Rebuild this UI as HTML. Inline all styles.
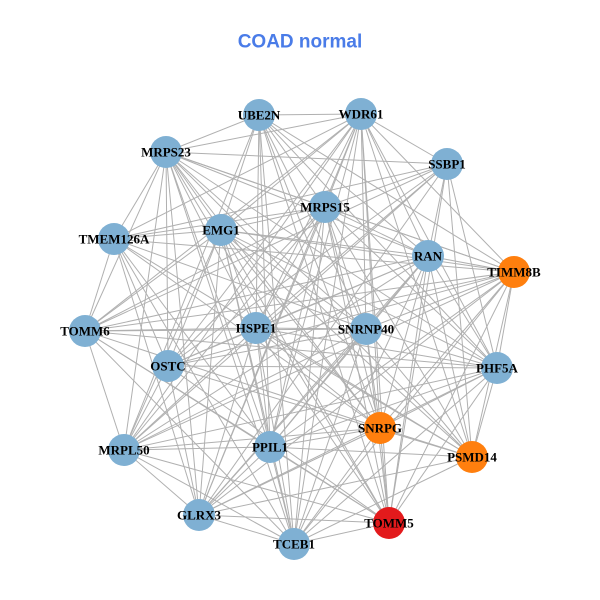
<!DOCTYPE html>
<html><head><meta charset="utf-8"><style>
html,body{margin:0;padding:0;background:#fff;width:600px;height:600px;overflow:hidden}
svg text{font-family:"Liberation Serif",serif;font-weight:bold;font-size:13px;text-anchor:middle;dominant-baseline:central;fill:#000}
</style></head><body>
<svg id="s" width="600" height="600" xmlns="http://www.w3.org/2000/svg">
<text x="300" y="42" style="font-family:'Liberation Sans',sans-serif;font-size:19px;fill:#4a7ce8">COAD normal</text>
<g id="e" stroke="#b0b0b0" stroke-width="1"></g>
<g id="n"></g>
<g>
<text x="259" y="115">UBE2N</text>
<text x="361" y="114">WDR61</text>
<text x="166" y="152">MRPS23</text>
<text x="447" y="164">SSBP1</text>
<text x="325" y="207">MRPS15</text>
<text x="221" y="230">EMG1</text>
<text x="114" y="239">TMEM126A</text>
<text x="428" y="256">RAN</text>
<text x="514" y="272">TIMM8B</text>
<text x="85" y="331">TOMM6</text>
<text x="256" y="328">HSPE1</text>
<text x="366" y="329">SNRNP40</text>
<text x="168" y="366">OSTC</text>
<text x="497" y="368">PHF5A</text>
<text x="380" y="428">SNRPG</text>
<text x="472" y="457">PSMD14</text>
<text x="124" y="450">MRPL50</text>
<text x="270" y="447">PPIL1</text>
<text x="199" y="515">GLRX3</text>
<text x="389" y="523">TOMM5</text>
<text x="294" y="544">TCEB1</text>
</g>
</svg>
<script>
var N=[[259,115,0],[361,114,0],[166,152,0],[447,164,0],[325,207,0],[221,230,0],[114,239,0],[428,256,0],[514,272,1],[85,331,0],[256,328,0],[366,329,0],[168,366,0],[497,368,0],[380,428,1],[472,457,1],[124,450,0],[270,447,0],[199,515,0],[389,523,2],[294,544,0]];
var ns="http://www.w3.org/2000/svg",e=document.getElementById('e'),g=document.getElementById('n');
var col=["#7fb0d3","#ff7f0e","#e31a1c"];
for(var i=0;i<N.length;i++)for(var j=i+1;j<N.length;j++){
 if((i*7+j*3)%9==0)continue;
 var l=document.createElementNS(ns,'line');l.setAttribute('x1',N[i][0]);l.setAttribute('y1',N[i][1]);l.setAttribute('x2',N[j][0]);l.setAttribute('y2',N[j][1]);e.appendChild(l);}
N.forEach(function(p){var c=document.createElementNS(ns,'circle');c.setAttribute('cx',p[0]);c.setAttribute('cy',p[1]);c.setAttribute('r',16);c.setAttribute('fill',col[p[2]]);g.appendChild(c);});
</script>
</body></html>
